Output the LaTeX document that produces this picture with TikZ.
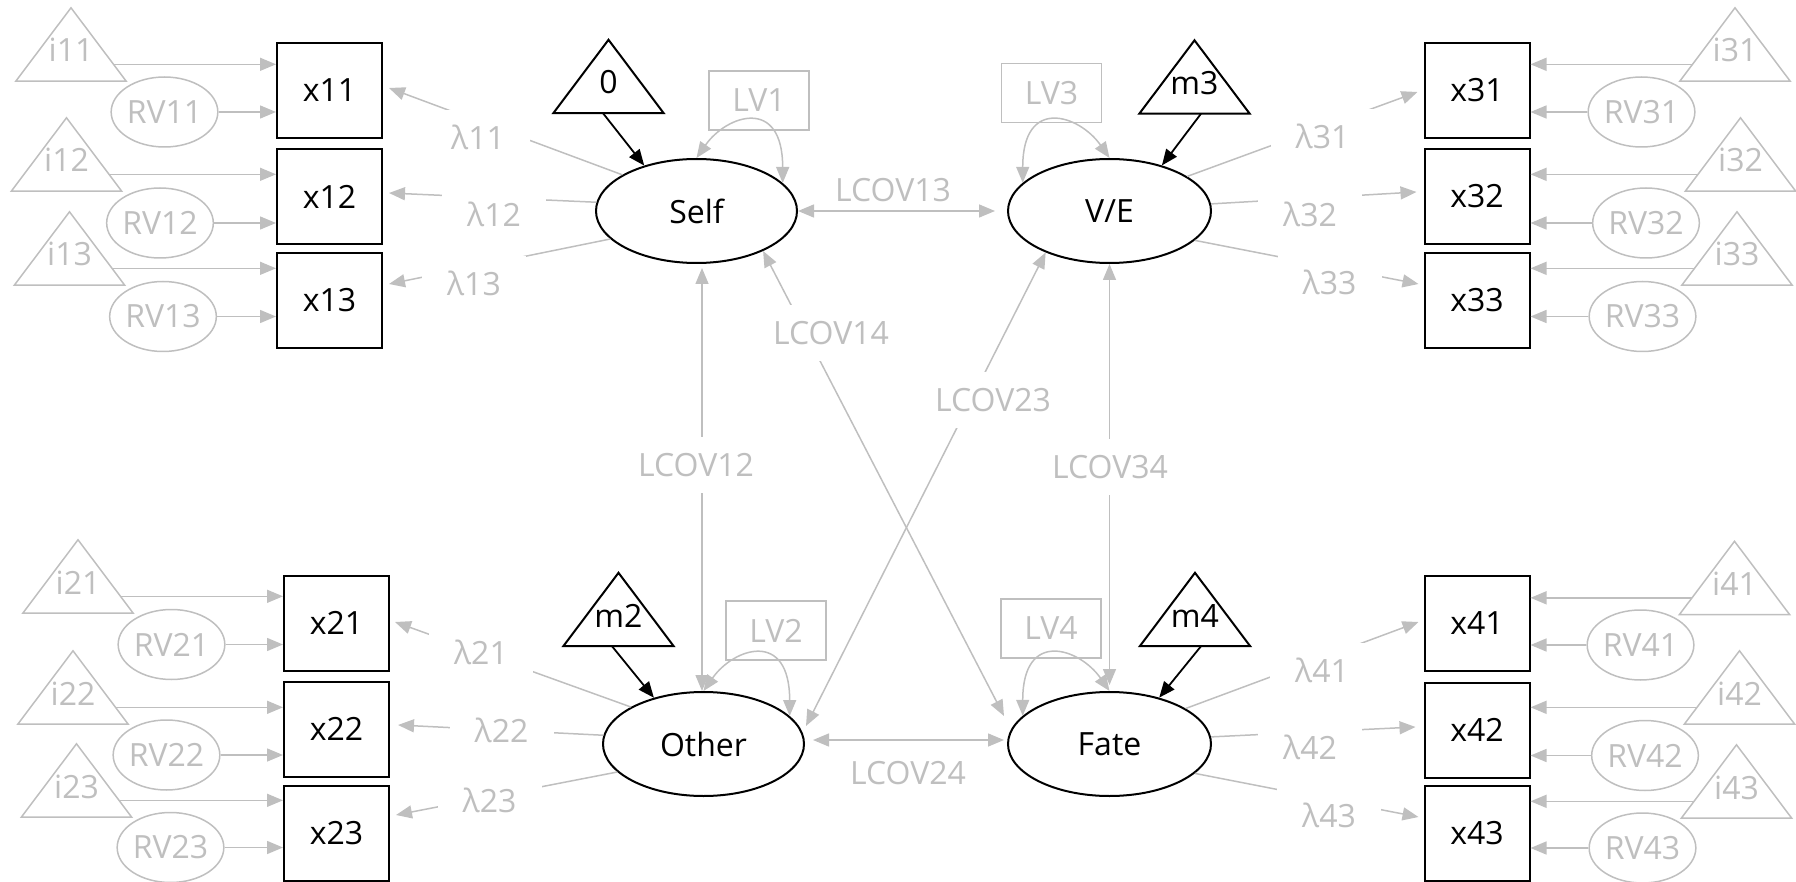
\documentclass[tikz,border=0pt]{standalone}
\usepackage{fontspec}
\setmainfont{Open Sans}
\usetikzlibrary{arrows.meta,shapes.geometric,calc}
\definecolor{gc}{RGB}{191,191,191}
\begin{document}
\begin{tikzpicture}[x=1pt,y=-1pt,
  every node/.style={font=\fontsize{32}{38}\selectfont, inner sep=0pt},
  obs/.style={draw=black, line width=2pt, minimum width=105pt, minimum height=95pt},
  lat/.style={ellipse, draw=black, line width=2pt, minimum width=201pt, minimum height=104pt},
  res/.style={ellipse, draw=gc, line width=1.5pt, text=gc, minimum width=98pt, minimum height=70pt},
  lvbox/.style={draw=gc, line width=1.5pt, text=gc, minimum width=100pt, minimum height=59pt},
  tri/.style={minimum width=110pt, minimum height=73pt, text height=35pt, text depth=0pt},
  gtri/.style={tri, text=gc},
  glab/.style={text=gc},
  lamlab/.style={glab, fill=white, minimum width=104pt, minimum height=54pt},
  covlab/.style={glab, fill=white, inner xsep=27pt, minimum height=56pt},
  garr/.style={draw=gc, line width=1.5pt, -{Triangle[length=16pt,width=13pt]}},
  gdarr/.style={draw=gc, line width=1.5pt, {Triangle[length=16pt,width=13pt]}-{Triangle[length=16pt,width=13pt]}},
  barr/.style={draw=black, line width=1.8pt, -{Triangle[length=16pt,width=13pt]}},
]
\useasboundingbox (0,0) rectangle (1796,882);

% observed boxes
\node[obs] (x11) at (329.5,90.5) {x11};
\node[obs] (x12) at (329.5,196.5) {x12};
\node[obs] (x13) at (329.5,300.5) {x13};
\node[obs] (x21) at (336.5,623) {x21};
\node[obs] (x22) at (336.5,729) {x22};
\node[obs] (x23) at (336.5,833) {x23};
\node[obs] (x31) at (1477,90.5) {x31};
\node[obs] (x32) at (1477,196.5) {x32};
\node[obs] (x33) at (1477,300.5) {x33};
\node[obs] (x41) at (1477,623) {x41};
\node[obs] (x42) at (1477,730) {x42};
\node[obs] (x43) at (1477,833.5) {x43};

% latent ellipses
\node[lat] (Self) at (696.5,211) {Self};
\node[lat, minimum width=203pt] (VE) at (1109.5,211) {V/E};
\node[lat] (Other) at (703.5,744) {Other};
\node[lat, minimum width=203pt] (Fate) at (1109.5,744) {Fate};

% intercept triangles (grey)
\node[gtri] (i11) at (71,44.5) {i11};
\node[gtri] (i12) at (66.5,154.5) {i12};
\node[gtri] (i13) at (69.5,248.5) {i13};
\node[gtri] (i21) at (78,576.5) {i21};
\node[gtri] (i22) at (73,687.5) {i22};
\node[gtri] (i23) at (76.5,780.5) {i23};
\node[gtri] (i31) at (1735,44.5) {i31};
\node[gtri] (i32) at (1740.5,154.5) {i32};
\node[gtri] (i33) at (1737,248.5) {i33};
\node[gtri] (i41) at (1734.5,578) {i41};
\node[gtri] (i42) at (1739.5,687.5) {i42};
\node[gtri] (i43) at (1736.5,781.5) {i43};
\foreach \n in {i11,i12,i13,i21,i22,i23,i31,i32,i33,i41,i42,i43}
  \draw[gc, line width=1.5pt, line join=miter] (\n.south west) -- (\n.north) -- (\n.south east) -- cycle;

% mean triangles (black)
\node[tri] (t0) at (608.5,76.5) {0};
\node[tri] (t3) at (1194.5,77) {m3};
\node[tri] (t2) at (618.5,609.5) {m2};
\node[tri] (t4) at (1195,609.5) {m4};
\foreach \n in {t0,t2,t3,t4}
  \draw[black, line width=2pt, line join=miter] (\n.south west) -- (\n.north) -- (\n.south east) -- cycle;

% residual ellipses
\node[res] (RV11) at (164.5,112) {RV11};
\node[res] (RV12) at (160,223) {RV12};
\node[res] (RV13) at (163,316.5) {RV13};
\node[res] (RV21) at (171.5,644.5) {RV21};
\node[res] (RV22) at (166.5,755) {RV22};
\node[res] (RV23) at (170.5,847.5) {RV23};
\node[res] (RV31) at (1641.5,112) {RV31};
\node[res] (RV32) at (1646,223) {RV32};
\node[res] (RV33) at (1642.5,316.5) {RV33};
\node[res] (RV41) at (1640.5,645) {RV41};
\node[res] (RV42) at (1645,755.5) {RV42};
\node[res] (RV43) at (1642.5,848) {RV43};

% intercept and residual arrows
\foreach \i/\x in {i11/x11,i12/x12,i13/x13,i21/x21,i22/x22,i23/x23}{
  \coordinate (s\i) at ($(\i.north)!0.77!(\i.south east)$);
  \draw[garr] (s\i) -- (s\i -| \x.west);
}
\foreach \i/\x in {i31/x31,i32/x32,i33/x33,i41/x41,i42/x42,i43/x43}{
  \coordinate (s\i) at ($(\i.north)!0.77!(\i.south west)$);
  \draw[garr] (s\i) -- (s\i -| \x.east);
}
\foreach \r/\x in {RV11/x11,RV12/x12,RV13/x13,RV21/x21,RV22/x22,RV23/x23}
  \draw[garr] (\r) -- (\r -| \x.west);
\foreach \r/\x in {RV31/x31,RV32/x32,RV33/x33,RV41/x41,RV42/x42,RV43/x43}
  \draw[garr] (\r) -- (\r -| \x.east);

% mean arrows
\draw[barr] ([xshift=-5.5pt]t0.south) -- (Self.139);
\draw[barr] ([xshift=6.5pt]t3.south) -- (VE.41.9);
\draw[barr] ([xshift=-6.5pt]t2.south) -- (Other.137.5);
\draw[barr] ([xshift=6pt]t4.south) -- (Fate.43);

% loadings
\draw[garr] (Self.154) -- ([xshift=6pt,yshift=2.5pt]x11.east);
\draw[garr] (Self.175.4) -- ([xshift=6pt,yshift=3.5pt]x12.east);
\draw[garr] (Self.198.5) -- ([xshift=6pt,yshift=16.5pt]x13.east);
\draw[garr] (VE.24.8) -- ([xshift=-6pt,yshift=-1.5pt]x31.west);
\draw[garr] (VE.4.5) -- ([xshift=-7pt,yshift=4.5pt]x32.west);
\draw[garr] (VE.341.3) -- ([xshift=-5pt,yshift=16.5pt]x33.west);
\draw[garr] (Other.153.9) -- ([xshift=5pt,yshift=1pt]x21.east);
\draw[garr] (Other.175.4) -- ([xshift=8pt,yshift=4pt]x22.east);
\draw[garr] (Other.198.1) -- ([xshift=6pt,yshift=18pt]x23.east);
\draw[garr] (Fate.25.8) -- ([xshift=-5pt,yshift=1pt]x41.west);
\draw[garr] (Fate.4) -- ([xshift=-8pt,yshift=3pt]x42.west);
\draw[garr] (Fate.341.3) -- ([xshift=-5pt,yshift=16.5pt]x43.west);

% latent variances
\draw[gdarr] (Self.north) .. controls +(30,-43) and +(0,-87) .. (Self.18);
\draw[gdarr] (Other.north) .. controls +(30,-43) and +(0,-87) .. (Other.18);
\draw[gdarr] (VE.162) .. controls +(0,-87) and +(-30,-43) .. (VE.north);
\draw[gdarr] (Fate.162) .. controls +(0,-87) and +(-30,-43) .. (Fate.north);
\node[lvbox] (LV1) at (759,100.5) {LV1};
\node[lvbox] (LV3) at (1051.5,93) {LV3};
\node[lvbox] (LV2) at (776,630.5) {LV2};
\node[lvbox] (LV4) at (1051,628.5) {LV4};

% latent covariances
\draw[gdarr, shorten >=12pt] (Self.east) -- (VE.west);
\draw[gdarr, shorten <=8pt, shorten >=3pt] ([yshift=4pt]Other.east) -- ([yshift=4pt]Fate.west);
\draw[gdarr, shorten <=4pt] ([xshift=5.5pt]Self.south) -- ([xshift=-1.5pt]Other.north);
\draw[gdarr, shorten >=6pt] (VE.south) -- (Fate.north);
\draw[gdarr] (Self.329.8) -- ([xshift=-3pt,yshift=28pt]Fate.west);
\draw[gdarr] (VE.213.9) -- ([xshift=1pt,yshift=18pt]Other.east);

% labels
\node[lamlab] (l11) at (478,137) {λ11};
\node[lamlab] (l12) at (494,214) {λ12};
\node[lamlab] (l13) at (474,283) {λ13};
\node[lamlab] (l21) at (481,652.5) {λ21};
\node[lamlab] (l22) at (501.5,730) {λ22};
\node[lamlab] (l23) at (489.5,800) {λ23};
\node[lamlab] (l31) at (1322.5,136.5) {λ31};
\node[lamlab] (l32) at (1310,214.5) {λ32};
\node[lamlab] (l33) at (1329.5,282.5) {λ33};
\node[lamlab] (l41) at (1322,670) {λ41};
\node[lamlab] (l42) at (1310,747) {λ42};
\node[lamlab] (l43) at (1329,815) {λ43};
\node[glab] (c13) at (893,190) {LCOV13};
\node[glab] (c24) at (908,773) {LCOV24};
\node[covlab] (c12) at (696,465) {LCOV12};
\node[covlab] (c14) at (831,333) {LCOV14};
\node[covlab] (c23) at (993,400) {LCOV23};
\node[covlab] (c34) at (1110,467) {LCOV34};
\end{tikzpicture}
\end{document}
